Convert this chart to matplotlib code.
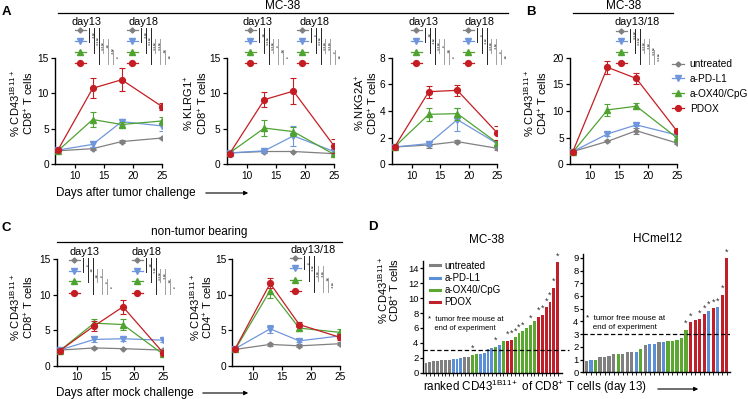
import numpy as np
import matplotlib
matplotlib.use('Agg')
import matplotlib.pyplot as plt
from matplotlib.lines import Line2D

plt.rcParams['font.family'] = ['Liberation Sans', 'DejaVu Sans']
plt.rcParams['mathtext.fontset'] = 'custom'
plt.rcParams['mathtext.rm'] = 'Liberation Sans'
plt.rcParams['mathtext.it'] = 'Liberation Sans'

W, H = 748, 399

days = [7, 13, 18, 25]
groups = ['untreated', 'a-PD-L1', 'a-OX40/CpG', 'PDOX']
colors = ['#808080', '#6f96dc', '#4fa331', '#c41e24']
markers = ['D', 'v', '^', 'o']
msizes = [2.6, 4, 4, 4.2]

# panel A: CD43 1B11+ of CD8
a1_mean = [[1.9, 2.2, 3.2, 3.7], [2.0, 2.8, 6.0, 5.4], [1.9, 6.3, 5.6, 6.1], [2.0, 10.7, 11.9, 8.1]]
a1_err = [[0, 0.2, 0.2, 0.2], [0, 0.3, 0.4, 0.7], [0, 1.0, 0.3, 0.5], [0, 1.4, 1.6, 0.5]]
# panel A: KLRG1+
a2_mean = [[1.6, 1.8, 1.8, 1.5], [1.6, 1.9, 4.0, 1.8], [1.6, 5.1, 4.6, 1.4], [1.5, 9.1, 10.3, 2.6]]
a2_err = [[0, 0.2, 0.1, 0.2], [0, 0.2, 1.4, 0.4], [0, 1.1, 0.6, 0.2], [0, 1.1, 1.8, 1.0]]
# panel A: NKG2A+
a3_mean = [[1.3, 1.45, 1.7, 1.2], [1.3, 1.55, 3.35, 1.55], [1.3, 3.75, 3.8, 1.6], [1.3, 5.45, 5.55, 2.35]]
a3_err = [[0, 0.2, 0.1, 0.15], [0, 0.15, 0.85, 0.2], [0, 0.5, 0.45, 0.15], [0, 0.45, 0.4, 0.5]]
# panel B: CD43 1B11+ of CD4
b_mean = [[2.4, 4.3, 6.3, 4.0], [2.4, 5.7, 7.4, 5.5], [2.3, 10.2, 10.9, 5.0], [2.4, 18.2, 16.1, 6.3]]
b_err = [[0, 0.2, 0.6, 0.2], [0, 0.4, 0.3, 0.3], [0, 1.2, 0.6, 0.3], [0, 1.2, 1.0, 0.3]]
# panel C: non-tumor bearing
c1_mean = [[2.2, 2.5, 2.4, 2.2], [2.2, 3.7, 3.8, 3.6], [2.1, 6.0, 5.8, 1.6], [2.1, 5.6, 8.3, 1.8]]
c1_err = [[0, 0.1, 0.1, 0.2], [0, 0.3, 0.3, 0.3], [0, 0.6, 0.8, 0.2], [0, 0.7, 1.0, 0.3]]
c2_mean = [[2.3, 3.0, 2.8, 3.1], [2.4, 5.2, 3.5, 4.2], [2.3, 10.6, 5.3, 4.7], [2.4, 11.6, 5.8, 4.0]]
c2_err = [[0, 0.2, 0.2, 0.2], [0, 0.6, 0.2, 0.3], [0, 1.1, 0.4, 0.5], [0, 0.7, 0.3, 0.4]]

# panel D: ranked values, group index (0 untreated .. 3 PDOX), tumor free flag
d1_vals = [1.35, 1.45, 1.55, 1.6, 1.65, 1.7, 1.75, 1.85, 1.9, 1.95, 2.05, 2.15, 2.4, 2.5,
           2.5, 2.6, 3.2, 3.25, 3.5, 3.7, 4.2, 4.3, 4.4, 4.75, 5.3, 5.6, 5.95, 6.45, 6.9,
           7.5, 7.8, 8.8, 9.5, 11.4, 14.8]
d1_grp = [0, 0, 0, 0, 0, 0, 0, 1, 1, 1, 0, 0, 2, 2,
          1, 1, 1, 1, 2, 1, 2, 3, 3, 2, 2, 2, 2, 2, 2,
          3, 3, 3, 3, 3, 3]
d1_free = [0, 0, 0, 0, 0, 0, 0, 0, 0, 0, 0, 0, 1, 0,
           0, 0, 0, 0, 1, 0, 0, 1, 1, 1, 1, 1, 0, 1, 0,
           1, 1, 1, 1, 1, 1]
d2_vals = [0.85, 1.0, 1.0, 1.18, 1.2, 1.26, 1.44, 1.44, 1.44, 1.57, 1.57, 1.62, 1.8, 2.17,
           2.2, 2.22, 2.38, 2.4, 2.43, 2.46, 2.54, 2.72, 3.35, 3.95, 4.1, 4.16, 4.58, 4.84,
           5.05, 5.1, 6.1, 8.95]
d2_grp = [0, 1, 2, 0, 0, 0, 0, 2, 0, 0, 0, 1, 2, 0,
          1, 1, 0, 1, 2, 2, 2, 2, 2, 3, 3, 3, 3, 1,
          3, 1, 3, 3]
d2_free = [0] * 22 + [1, 1, 0, 1, 1, 1, 1, 1, 1, 1]

bar_colors = ['#808080', '#5b8fd8', '#5aa832', '#c0202a']

fig = plt.figure(figsize=(W / 100, H / 100), dpi=100)


def ax_px(left, top, right, bottom):
    return fig.add_axes([left / W, 1 - bottom / H, (right - left) / W, (bottom - top) / H])


def style(ax):
    for s in ['top', 'right']:
        ax.spines[s].set_visible(False)
    for s in ['left', 'bottom']:
        ax.spines[s].set_linewidth(1.0)
    ax.tick_params(labelsize=7.3, width=0.9, length=3, pad=1.5)


def line_panel(ax, mean, err, ymax, yticks):
    for i in range(4):
        ax.errorbar(days, mean[i], yerr=err[i], color=colors[i], marker=markers[i],
                    ms=msizes[i], lw=0.9, elinewidth=0.8, capsize=2, capthick=0.8, zorder=3 + i)
    ax.set_xlim(6.5, 25)
    ax.set_xticks([10, 15, 20, 25])
    ax.set_ylim(0, ymax)
    ax.set_yticks(yticks)
    style(ax)


axA1 = ax_px(55, 57.7, 162.3, 164.3)
line_panel(axA1, a1_mean, a1_err, 15, [0, 5, 10, 15])
axA2 = ax_px(226.7, 57.7, 334, 164.3)
line_panel(axA2, a2_mean, a2_err, 15, [0, 5, 10, 15])
axA3 = ax_px(391.7, 57.7, 497.3, 164.3)
line_panel(axA3, a3_mean, a3_err, 8, [0, 2, 4, 6, 8])
axB = ax_px(570, 57.7, 676.7, 164.3)
line_panel(axB, b_mean, b_err, 20, [0, 5, 10, 15, 20])
axC1 = ax_px(56.7, 259.3, 163.3, 365.7)
line_panel(axC1, c1_mean, c1_err, 15, [0, 5, 10, 15])
axC2 = ax_px(232.3, 259.3, 340, 365.7)
line_panel(axC2, c2_mean, c2_err, 15, [0, 5, 10, 15])

handles = [Line2D([], [], color=colors[i], marker=markers[i], ms=msizes[i], lw=0.9) for i in range(4)]
axB.legend(handles, groups, loc='upper left', bbox_to_anchor=(667 / W, 1 - 54 / H),
           bbox_transform=fig.transFigure, frameon=False, fontsize=7.3, handlelength=1.2,
           handletextpad=0.55, labelspacing=0.48, borderpad=0)


def bar_panel(ax, vals, grp, free, ymax, yticks, xmax):
    x = np.arange(len(vals))
    cols = [bar_colors[g] for g in grp]
    ax.bar(x, vals, width=0.72, color=cols, clip_on=False)
    for xi, v, f in zip(x, vals, free):
        if f:
            ax.text(xi, v + 0.015 * ymax, '*', ha='center', va='bottom', fontsize=6.5,
                    color='#333333', clip_on=False)
    ax.set_xlim(-0.7, xmax)
    ax.set_xticks(x)
    ax.set_xticklabels([])
    ax.set_ylim(0, ymax)
    ax.set_yticks(yticks)
    style(ax)
    ax.tick_params(axis='x', length=2, width=0.6)
    ax.tick_params(axis='y', labelsize=6.8, length=2)


axD1 = ax_px(423.3, 260.8, 562, 372.7)
bar_panel(axD1, d1_vals, d1_grp, d1_free, 15, list(range(0, 15, 2)), len(d1_vals) + 0.1)
axD1.axhline(3.1, xmin=0, xmax=1.05, color='k', ls=(0, (3.5, 2)), lw=0.9, clip_on=False)
axD2 = ax_px(583.3, 254, 730, 372.3)
bar_panel(axD2, d2_vals, d2_grp, d2_free, 9.3, list(range(10)), len(d2_vals) - 0.3)
axD2.axhline(3.0, color='k', ls=(0, (3.5, 2)), lw=0.9)

dh = [Line2D([], [], color=bar_colors[i], lw=2.2) for i in range(4)]
axD1.legend(dh, groups, loc='upper left', bbox_to_anchor=(425 / W, 1 - 256 / H),
            bbox_transform=fig.transFigure, frameon=False, fontsize=7, handlelength=1.0,
            handletextpad=0.5, labelspacing=0.22, borderpad=0)

# overlay in pixel coordinates for labels and annotations
ov = fig.add_axes([0, 0, 1, 1])
ov.set_xlim(0, W)
ov.set_ylim(H, 0)
ov.axis('off')


def ylab(x1, x2, yc, l1, l2):
    ov.text(x1, yc, l1, rotation=90, ha='center', va='center', fontsize=8)
    ov.text(x2, yc, l2, rotation=90, ha='center', va='center', fontsize=8)


cd43 = r'% CD43$^{\mathregular{1B11+}}$'
ylab(15, 29, 103, cd43, r'CD8$^{+}$ T cells')
ylab(189, 203, 103, r'% KLRG1$^{+}$', r'CD8$^{+}$ T cells')
ylab(360, 373, 103, r'% NKG2A$^{+}$', r'CD8$^{+}$ T cells')
ylab(529, 543, 103, cd43, r'CD4$^{+}$ T cells')
ylab(15, 29, 307, cd43, r'CD8$^{+}$ T cells')
ylab(195, 208, 307, cd43, r'CD4$^{+}$ T cells')
ylab(383, 395, 290, cd43, r'CD8$^{+}$ T cells')

# panel letters and titles
for lt, x, y in [('A', 2, 12), ('B', 526, 12), ('C', 2, 228), ('D', 368, 227)]:
    ov.text(x, y, lt, fontsize=9.5, fontweight='bold', ha='left', va='center')
ov.text(283, 6, 'MC-38', fontsize=8.5, ha='center', va='center')
ov.plot([58, 508], [13, 13], color='k', lw=0.9)
ov.text(624, 6, 'MC-38', fontsize=8.5, ha='center', va='center')
ov.plot([573, 673], [13, 13], color='k', lw=0.9)
ov.text(199, 232, 'non-tumor bearing', fontsize=8.5, ha='center', va='center')
ov.plot([57, 342], [242, 242], color='k', lw=0.9)
ov.text(487, 240, 'MC-38', fontsize=8.5, ha='center', va='center')
ov.text(658, 239, 'HCmel12', fontsize=8.5, ha='center', va='center')

# x labels with arrows
ov.text(56, 193, 'Days after tumor challenge', fontsize=8.4, ha='left', va='center')
ov.annotate('', xy=(251, 193), xytext=(203, 193),
            arrowprops=dict(arrowstyle='-|>', lw=0.8, color='k', mutation_scale=6))
ov.text(56, 393, 'Days after mock challenge', fontsize=8.4, ha='left', va='center')
ov.annotate('', xy=(251, 393), xytext=(200, 393),
            arrowprops=dict(arrowstyle='-|>', lw=0.8, color='k', mutation_scale=6))
ov.text(423, 387, r'ranked CD43$^{\mathregular{1B11+}}$ of CD8$^{+}$ T cells (day 13)',
        fontsize=8.4, ha='left', va='center')
ov.annotate('', xy=(701, 389), xytext=(655, 389),
            arrowprops=dict(arrowstyle='-|>', lw=0.8, color='k', mutation_scale=6))

# tumor free notes
ov.text(428, 324, '*  tumor free mouse at\n   end of experiment', fontsize=5.5, ha='left',
        va='center', linespacing=1.25)
ov.text(586, 323, '*  tumor free mouse at\n   end of experiment', fontsize=5.8, ha='left',
        va='center', linespacing=1.25)

# significance blocks
pairs = [(0, 1), (0, 2), (0, 3), (1, 2), (1, 3), (2, 3)]


def sig_block(mx, lab_x, lab_y, ys, label, stars):
    ov.text(lab_x, lab_y, label, fontsize=7.8, ha='center', va='center')
    for i in range(4):
        ov.plot([mx, mx + 11], [ys[i], ys[i]], color=colors[i], lw=0.9)
        ov.plot(mx + 5.5, ys[i], marker=markers[i], color=colors[i], ms=msizes[i])
    bx = mx + 14
    for k, (i, j) in enumerate(pairs):
        xk = bx + k * 4.8
        c = '#222222' if k < 3 else '#a0a0a0'
        ov.plot([xk, xk], [ys[i] - 2, ys[j] + 1], color=c, lw=0.7)
        ov.text(xk + 2.0, (ys[i] + ys[j]) / 2, stars[k], rotation=270, fontsize=4.2,
                ha='center', va='center', color='#333333')


ysA = [30, 40.7, 52.3, 62.7]
sig_block(75, 87, 21.7, ysA, 'day13', ['***', '****', '****', '**', '***', '*'])
sig_block(127, 143.5, 21.7, ysA, 'day18', ['***', '****', '****', '****', '**', '**'])
sig_block(245, 258, 21.7, ysA, 'day13', ['**', '****', '****', '*', '**', '*'])
sig_block(297, 315, 21.7, ysA, 'day18', ['*', '****', '****', '****', '*', '**'])
sig_block(411, 424, 21.7, ysA, 'day13', ['**', '***', '****', '*', '**', '*'])
sig_block(463, 480, 21.7, ysA, 'day18', ['*', '***', '****', '***', '*', '**'])
sig_block(616, 637, 21.7, [30.7, 40.7, 52.3, 62.7], 'day13/18',
          ['****', '****', '****', '***', '****', '****'])
ysC = [260, 270.7, 281.3, 292.7]
sig_block(69, 85, 252.3, ysC, 'day13', ['*', '**', '**', '*', '*', '*'])
sig_block(132, 147, 252.3, ysC, 'day18', ['**', '***', '****', '***', '**', '*'])
sig_block(290, 313, 250, [257.7, 268.3, 280, 290.7], 'day13/18',
          ['*', '***', '***', '***', '**', '***'])

fig.savefig('out.png', dpi=100)
